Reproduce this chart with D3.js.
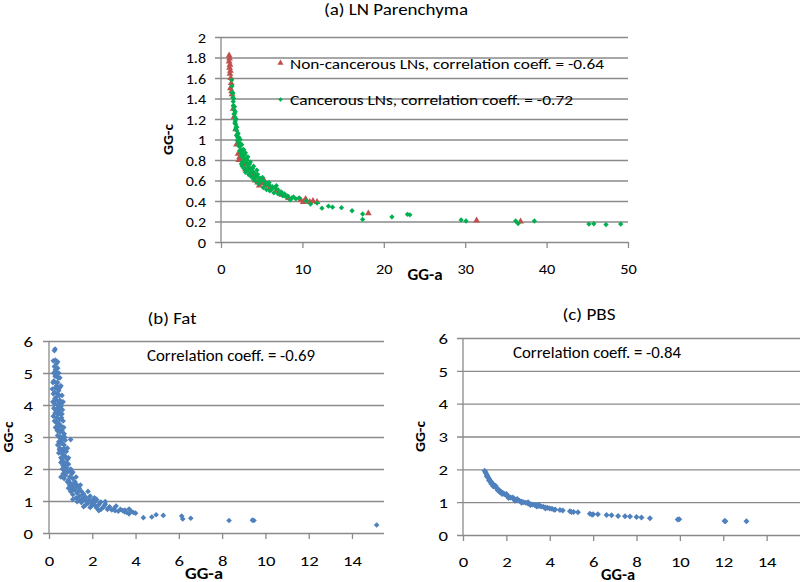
<!DOCTYPE html>
<html>
<head>
<meta charset="utf-8">
<script src="https://cdn.jsdelivr.net/npm/d3@7"></script>
<style>
  html, body { margin: 0; padding: 0; background: #fff; }
  svg { display: block; }
  text { font-family: Carlito, Lato, "Open Sans", sans-serif; fill: #000; }
</style>
</head>
<body>
<svg id="chart" width="800" height="582"></svg>
<script>
// ---------------- DATA ----------------
const titles = ["(a) LN Parenchyma", "(b) Fat", "(c) PBS"];
const xAxisTitle = "GG-a";
const yAxisTitle = "GG-c";
const legendLabels = ["Non-cancerous LNs, correlation coeff. = -0.64", "Cancerous LNs, correlation coeff. = -0.72"];
const corrLabels = ["Correlation coeff. = -0.69", "Correlation coeff. = -0.84"];

const ticksAX = [0, 10, 20, 30, 40, 50];
const ticksAY = [0, 0.2, 0.4, 0.6, 0.8, 1, 1.2, 1.4, 1.6, 1.8, 2];
const ticksBX = [0, 2, 4, 6, 8, 10, 12, 14];
const ticksBY = [0, 1, 2, 3, 4, 5, 6];
const ticksCX = [0, 2, 4, 6, 8, 10, 12, 14];
const ticksCY = [0, 1, 2, 3, 4, 5, 6];

// (a) Non-cancerous LNs  [GG-a, GG-c]
const nonCancerous = [
  [1.0,1.82],[1.05,1.79],[1.0,1.76],[1.1,1.73],[1.05,1.7],[1.15,1.67],[1.1,1.64],[1.2,1.6],
  [1.25,1.55],[1.15,1.5],[1.3,1.47],[1.35,1.44],[1.5,1.3],[1.6,1.22],[1.8,1.1],[1.9,0.95],
  [2.1,0.86],[2.3,0.83],[2.5,0.8],[2.8,0.76],[3.0,0.71],[3.3,0.72],[3.6,0.66],[3.9,0.64],
  [4.2,0.6],[4.5,0.58],[4.8,0.57],[5.2,0.58],[5.5,0.55],[5.8,0.56],[6.0,0.53],[6.8,0.5],
  [7.5,0.46],[8.3,0.43],[9.8,0.41],[10.1,0.39],[10.4,0.42],[10.9,0.39],[11.3,0.4],[11.8,0.39],
  [18.1,0.28],[31.4,0.21],[36.8,0.2],[2.2,0.8],[4.7,0.55],[5.3,0.6]
];
// (a) Cancerous LNs
const cancerous = [
  [1.3,1.58],[1.35,1.52],[1.4,1.46],[1.45,1.41],[1.5,1.37],[1.55,1.33],[1.6,1.29],[1.65,1.25],
  [1.7,1.22],[1.75,1.18],[1.8,1.15],[1.85,1.12],[1.9,1.09],[2.0,1.05],[2.05,1.02],[2.1,0.99],
  [2.2,0.96],[2.3,0.93],[2.4,0.9],[2.5,0.88],[2.6,0.86],[2.7,0.84],[2.8,0.82],[2.9,0.8],
  [3.0,0.79],[3.1,0.77],[3.2,0.76],[3.3,0.75],[3.4,0.73],[3.5,0.72],[3.6,0.71],[3.8,0.69],
  [4.0,0.68],[4.2,0.66],[4.4,0.64],[4.6,0.63],[4.8,0.62],[5.0,0.61],[5.3,0.59],[5.6,0.57],
  [6.0,0.55],[6.3,0.54],[6.6,0.53],[7.0,0.51],[7.4,0.49],[7.8,0.47],[8.2,0.45],[8.7,0.43],
  [9.2,0.42],[2.6,0.78],[3.1,0.7],[3.7,0.64],[4.2,0.6],[5.6,0.51],[6.5,0.48],[7.6,0.45],
  [8.5,0.41],[10.5,0.4],[11.0,0.37],[11.8,0.38],[12.4,0.33],[13.2,0.35],[13.7,0.34],[14.8,0.335],
  [16.1,0.305],[17.4,0.273],[17.4,0.22],[21.0,0.245],[22.9,0.27],[23.2,0.265],[29.5,0.215],[30.1,0.205],
  [36.2,0.205],[36.5,0.18],[38.5,0.205],[45.2,0.175],[45.8,0.178],[47.3,0.17],[49.1,0.175],
  [1.5,1.33],[1.6,1.25],[1.7,1.16],[1.8,1.1],[1.9,1.04],[2.0,0.99],[2.15,0.94],[2.3,0.89],
  [2.45,0.86],[2.6,0.83],[2.2,1.02],[2.4,0.96],[2.7,0.9],[2.9,0.85],[3.2,0.8],[3.5,0.76],
  [3.3,0.7],[3.6,0.67],[3.9,0.72],[4.1,0.63],[4.5,0.66],[4.7,0.59],[5.1,0.63],[5.4,0.56],
  [5.9,0.58],[6.2,0.51],[6.8,0.55],[7.2,0.47],[8.0,0.44],[8.9,0.44],[9.6,0.43],[1.45,1.45],
  [1.55,1.4],[1.65,1.32],[1.75,1.27],[1.85,1.2],[3.0,0.68],[2.6,0.74],
  [1.95,1.12],[2.1,1.06],[2.35,1.0],[2.55,0.95],[2.8,0.9],[3.0,0.87],[3.3,0.83],[3.6,0.78],
  [4.0,0.74],[4.4,0.7],[2.5,0.76],[2.8,0.72],[3.4,0.66],[4.0,0.61],[4.6,0.57],[5.2,0.53],
  [6.0,0.5],[7.0,0.47]
];
// (b) Fat
const fat = [
  [0.28,5.75],[0.25,5.7],[0.2,5.38],[0.3,5.4],[0.35,5.3],[0.25,5.2],[0.4,5.15],[0.3,5.05],
  [0.45,5.0],[0.35,4.9],[0.5,4.85],[0.22,4.75],[0.4,4.7],[0.55,4.6],[0.3,4.55],[0.45,4.45],
  [0.2,4.35],[0.6,4.3],[0.35,4.25],[0.5,4.15],[0.65,4.1],[0.25,4.05],[0.4,4.0],[0.55,3.95],
  [0.3,3.85],[0.45,3.8],[0.6,3.72],[0.2,3.65],[0.35,3.6],[0.5,3.55],[0.65,3.5],[0.4,3.45],
  [0.55,3.35],[0.3,3.3],[0.45,3.25],[0.6,3.2],[0.7,3.1],[0.4,3.05],[0.5,3.0],[0.65,2.95],
  [0.75,2.9],[1.0,2.92],[0.45,2.85],[0.55,2.8],[0.7,2.75],[0.5,2.65],[0.6,2.6],[0.8,2.55],
  [0.45,2.5],[0.65,2.45],[0.75,2.4],[0.55,2.35],[0.85,2.3],[0.6,2.25],[0.7,2.2],[0.9,2.15],
  [0.65,2.1],[0.8,2.05],[1.0,2.0],[0.7,1.95],[0.85,1.9],[1.05,1.85],[0.75,1.8],[0.95,1.75],
  [0.7,1.7],[1.1,1.7],[0.9,1.65],[1.2,1.6],[1.0,1.55],[1.3,1.5],[1.1,1.45],[1.4,1.4],
  [0.9,1.4],[1.2,1.35],[1.5,1.3],[1.0,1.3],[1.3,1.25],[1.6,1.22],[1.1,1.2],[1.4,1.15],
  [1.7,1.12],[1.25,1.1],[1.55,1.08],[1.85,1.05],[1.4,1.02],[1.7,1.0],[2.0,1.02],[2.2,1.05],
  [1.5,0.95],[1.8,0.93],[2.1,0.95],[2.4,0.97],[1.7,0.88],[2.0,0.86],[2.3,0.88],[2.6,0.9],
  [1.6,0.82],[1.9,0.8],[2.2,0.78],[2.5,0.8],[2.8,0.82],[3.1,0.84],[2.4,0.74],[2.7,0.74],
  [3.0,0.76],[3.3,0.74],[3.5,0.72],[3.7,0.75],[3.2,0.68],[3.5,0.66],[3.8,0.68],[4.0,0.62],
  [3.7,0.6],[2.0,0.88],[0.35,4.6],[0.28,4.9],[0.5,3.9],[0.42,3.7],[0.6,3.0],[0.52,2.95],
  [0.8,2.2],[0.62,2.0],[0.95,1.5],[1.15,1.55],[1.35,1.3],[0.55,1.75],[4.36,0.48],[4.75,0.5],
  [4.95,0.57],[5.28,0.55],[6.13,0.53],[6.18,0.44],[6.55,0.46],[8.32,0.39],[9.4,0.4],[9.47,0.39],
  [15.14,0.25],
  [0.15,4.5],[0.18,4.1],[0.22,3.9],[0.26,4.4],[0.32,4.15],[0.38,4.35],[0.42,4.5],[0.48,4.3],
  [0.52,4.0],[0.58,4.05],[0.62,3.85],[0.28,3.75],[0.33,3.45],[0.38,3.2],[0.25,3.5],[0.48,3.4],
  [0.58,3.6],[0.68,3.3],[0.72,3.0],[0.62,2.8],[0.4,2.75],[0.48,2.6],[0.58,2.5],[0.7,2.55],
  [0.85,2.65],[0.78,2.1],[0.9,2.35],[0.95,1.95],[1.1,1.9],[0.85,1.6],[0.65,1.85],[1.25,1.75],
  [1.05,1.4],[1.45,1.5],[1.55,1.2],[1.35,1.05],[1.9,1.15],[1.95,0.95],[2.15,0.85],[2.35,0.95],
  [2.55,0.85],[2.75,0.78],[2.9,0.72],[3.05,0.7],[3.4,0.7],[3.6,0.64],[3.9,0.64],[1.8,1.3],
  [2.1,1.1],[0.3,5.1],[0.4,5.35],[0.22,5.0],[0.18,4.7],[0.32,4.7],[0.42,4.85],[0.5,4.55],
  [0.27,4.2],[0.45,4.1],[0.37,3.9],[0.55,3.7],[0.42,3.35],[0.52,3.15],[0.6,2.9],[0.7,2.65],
  [0.55,2.2],[0.67,2.35],[1.15,1.35],[1.25,1.45],[1.6,1.05],[2.3,0.7],[2.6,0.98],[1.1,1.05],
  [1.3,0.98]
];
// (c) PBS
const pbs = [
  [1.0,1.96],[1.03,1.92],[1.06,1.88],[1.1,1.83],[1.13,1.79],[1.16,1.75],[1.2,1.71],[1.24,1.67],
  [1.28,1.63],[1.32,1.6],[1.36,1.56],[1.4,1.53],[1.45,1.49],[1.5,1.46],[1.55,1.43],[1.6,1.4],
  [1.65,1.37],[1.7,1.34],[1.75,1.32],[1.8,1.29],[1.85,1.27],[1.9,1.25],[1.95,1.23],[2.0,1.21],
  [2.1,1.17],[2.2,1.14],[2.3,1.11],[2.4,1.08],[2.5,1.06],[2.6,1.04],[2.7,1.02],[2.8,1.0],
  [2.9,0.98],[3.0,0.96],[3.1,0.94],[3.2,0.93],[3.3,0.91],[3.4,0.9],[3.5,0.88],[3.6,0.87],
  [3.7,0.86],[3.8,0.84],[3.9,0.83],[4.0,0.81],[4.1,0.8],[4.25,0.78],[4.47,0.76],[4.6,0.75],
  [4.93,0.72],[5.1,0.7],[5.3,0.69],[5.85,0.65],[6.0,0.63],[6.22,0.63],[6.62,0.61],[6.85,0.6],
  [7.15,0.58],[7.47,0.57],[7.7,0.56],[8.0,0.55],[8.23,0.53],[8.62,0.51],[9.97,0.48],[12.06,0.43],
  [13.07,0.42],[1.5,1.5],[2.0,1.25],[2.5,1.1],[3.0,1.0],[3.5,0.92],[1.7,1.3],[2.3,1.14],
  [1.1,1.78],[1.2,1.66],[1.3,1.56],[1.4,1.48],[1.6,1.36],[1.8,1.25],[2.1,1.13],[2.4,1.04],
  [2.7,0.98],[3.1,0.91],[3.4,0.87],[3.8,0.81],[4.2,0.77],[5.0,0.7],[5.95,0.62],[9.9,0.47],
  [12.1,0.42]
];

// ---------------- DRAWING ----------------
const svg = d3.select("#chart");
const GRID = "#8a8a8a";
const RED = "#c0504d", GREEN = "#00b050", BLUE = "#4f81bd";

// stretch a text to a given width (the reference uses a wide typeface)
function fit(sel, w) {
  sel.attr("textLength", w).attr("lengthAdjust", "spacingAndGlyphs");
  return sel;
}
function tickWidth(s, dw, dotw) {
  let w = 0;
  for (const ch of s) w += (ch === "." ? dotw : dw);
  return w;
}

function panel(cfg) {
  const x = d3.scaleLinear().domain(cfg.xd).range(cfg.xr);
  const y = d3.scaleLinear().domain(cfg.yd).range(cfg.yr);
  const g = svg.append("g");
  // horizontal gridlines + y axis
  const yAxis = d3.axisLeft(y).tickValues(cfg.yticks).tickSize(-(cfg.xr[1] - cfg.xr[0])).tickPadding(0)
    .tickFormat(d3.format("~g"));
  const ya = g.append("g").attr("transform", `translate(${cfg.xr[0]},0)`).call(yAxis);
  ya.select(".domain").remove();
  ya.attr("font-family", null).attr("font-size", null);
  ya.selectAll(".tick line").attr("stroke", GRID).attr("stroke-width", 1.3).attr("x1", -6);
  ya.selectAll(".tick text").attr("x", cfg.ylabRight - cfg.xr[0]).attr("dy", "0.36em")
    .attr("font-size", cfg.tickFont).attr("fill", "#000")
    .each(function (d) { fit(d3.select(this), tickWidth(d3.select(this).text(), cfg.dw, cfg.dotw)); });
  // vertical axis line
  g.append("line").attr("x1", cfg.xr[0]).attr("x2", cfg.xr[0]).attr("y1", cfg.yr[0] + 0.5).attr("y2", cfg.yr[1])
    .attr("stroke", GRID).attr("stroke-width", 1.3);
  // x axis ticks
  const xAxis = d3.axisBottom(x).tickValues(cfg.xticks).tickSize(6).tickPadding(0).tickFormat(d3.format("~g"));
  const xa = g.append("g").attr("transform", `translate(0,${cfg.yr[0]})`).call(xAxis);
  xa.select(".domain").remove();
  xa.attr("font-family", null).attr("font-size", null);
  xa.selectAll(".tick line").attr("stroke", GRID).attr("stroke-width", 1.3);
  xa.selectAll(".tick text").attr("y", cfg.xlabBase - cfg.yr[0]).attr("dy", 0)
    .attr("font-size", cfg.tickFont).attr("fill", "#000")
    .each(function (d) { fit(d3.select(this), tickWidth(d3.select(this).text(), cfg.dw, cfg.dotw)); });
  // title
  fit(g.append("text").attr("x", cfg.titleX).attr("y", cfg.titleBase).attr("text-anchor", "middle")
    .attr("font-size", 16).text(cfg.title), cfg.titleW);
  // axis titles
  fit(g.append("text").attr("x", cfg.xtX).attr("y", cfg.xtBase).attr("text-anchor", "middle")
    .attr("font-size", 15).attr("font-weight", "bold").text(xAxisTitle), cfg.xtW);
  fit(g.append("text").attr("transform", `translate(${cfg.ytX},${(cfg.yr[0] + cfg.yr[1]) / 2}) rotate(-90)`)
    .attr("dy", "0.36em").attr("text-anchor", "middle")
    .attr("font-size", 14.5).attr("font-weight", "bold").text(yAxisTitle), 31);
  return { g, x, y };
}

function drawPoints(p, data, color, shape, size) {
  const sym = d3.symbol().type(shape).size(size);
  p.g.append("g").selectAll("path").data(data).join("path")
    .attr("d", sym)
    .attr("transform", d => `translate(${p.x(d[0])},${p.y(d[1])})` + (shape === d3.symbolSquare ? " rotate(45)" : ""))
    .attr("fill", color);
}

// Panel (a)
const pa = panel({ xd: [0, 50], xr: [221, 628], yd: [0, 2], yr: [242, 37],
  xticks: ticksAX, yticks: ticksAY, ylabRight: 206, xlabBase: 273.5, tickFont: 14.5, dw: 8.3, dotw: 3.7,
  title: titles[0], titleX: 396, titleBase: 14.5, titleW: 144,
  xtX: 425, xtBase: 280, xtW: 35, ytX: 168 });
drawPoints(pa, nonCancerous, RED, d3.symbolTriangle, 20);
drawPoints(pa, cancerous, GREEN, d3.symbolSquare, 14);
// legend (a)
pa.g.append("path").attr("d", d3.symbol().type(d3.symbolTriangle).size(16))
  .attr("transform", "translate(280.5,63)").attr("fill", RED);
fit(pa.g.append("text").attr("x", 290).attr("y", 68.5).attr("font-size", 15).text(legendLabels[0]), 314);
pa.g.append("path").attr("d", d3.symbol().type(d3.symbolSquare).size(11))
  .attr("transform", "translate(280.5,99.5) rotate(45)").attr("fill", GREEN);
fit(pa.g.append("text").attr("x", 290).attr("y", 104.5).attr("font-size", 15).text(legendLabels[1]), 283);

// Panel (b)
const pb = panel({ xd: [0, 15.48], xr: [49, 384], yd: [0, 6], yr: [533, 341],
  xticks: ticksBX, yticks: ticksBY, ylabRight: 33, xlabBase: 565.5, tickFont: 14.5, dw: 9.5, dotw: 4,
  title: titles[1], titleX: 172, titleBase: 323.5, titleW: 49,
  xtX: 204, xtBase: 578.5, xtW: 38, ytX: 8 });
drawPoints(pb, fat, BLUE, d3.symbolSquare, 16);
fit(pb.g.append("text").attr("x", 147).attr("y", 361).attr("font-size", 15.5).text(corrLabels[0]), 168);

// Panel (c)
const pc = panel({ xd: [0, 16], xr: [463, 810], yd: [0, 6], yr: [535, 338],
  xticks: ticksCX, yticks: ticksCY, ylabRight: 448, xlabBase: 566.5, tickFont: 14.5, dw: 9.5, dotw: 4,
  title: titles[2], titleX: 589, titleBase: 320, titleW: 53,
  xtX: 618, xtBase: 579.5, xtW: 34, ytX: 420 });
drawPoints(pc, pbs, BLUE, d3.symbolSquare, 18);
fit(pc.g.append("text").attr("x", 513).attr("y", 358).attr("font-size", 15.5).text(corrLabels[1]), 168);
</script>
</body>
</html>
